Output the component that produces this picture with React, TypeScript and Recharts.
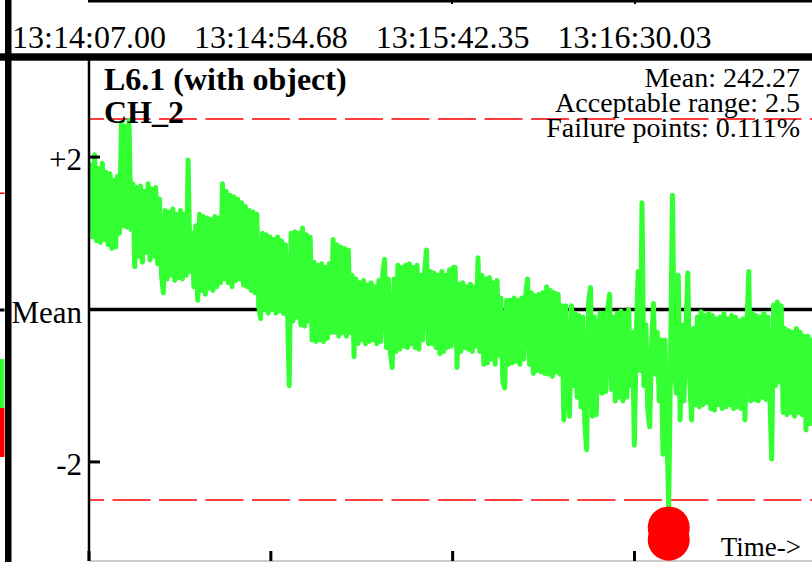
import React from 'react';
import { ComposedChart, Line, Scatter, XAxis, YAxis, ReferenceLine } from 'recharts';

// ---- data ----
const SAMPLE_INTERVAL = 0.5; // seconds between samples
const deviation: number[] = [
  1.05, 1.90, 0.95, 2.03, 0.90, 1.85, 0.88, 1.92, 0.92, 1.80,
  0.85, 1.78, 0.80, 1.70, 0.82, 1.75, 1.00, 2.45, 1.10, 2.40,
  1.08, 2.48, 1.05, 1.65, 0.56, 1.60, 0.70, 1.62, 0.62, 1.55,
  0.75, 1.65, 0.65, 1.58, 0.70, 1.60, 0.60, 1.45, 0.45, 0.22,
  1.30, 0.40, 1.28, 0.45, 1.32, 0.38, 1.25, 0.42, 1.30, 0.40,
  1.25, 0.45, 1.96, 0.50, 1.00, 0.30, 1.10, 0.12, 1.25, 0.25,
  1.22, 0.20, 1.20, 0.28, 1.18, 0.25, 1.22, 0.30, 1.20, 0.35,
  1.65, 0.40, 1.55, 0.35, 1.50, 0.30, 1.48, 0.38, 1.45, 0.40,
  1.40, 0.32, 1.35, 0.30, 1.30, 0.25, 1.28, 0.22, 1.25, 0.05,
  -0.12, 1.00, 0.00, 0.98, -0.05, 0.95, 0.00, 0.92, -0.05, 0.95,
  -0.02, 0.90, -0.05, 0.85, 0.10, -1.00, 1.00, -0.15, 1.02, -0.10,
  1.00, -0.20, 1.07, -0.22, 0.98, -0.15, 0.95, -0.40, 0.62, -0.42,
  0.58, -0.40, 0.60, -0.42, 0.55, -0.38, 0.60, -0.30, 0.92, -0.30,
  0.85, -0.35, 0.82, -0.30, 0.80, -0.35, 0.78, -0.30, 0.45, -0.62,
  0.40, -0.45, 0.35, -0.40, 0.38, -0.45, 0.32, -0.42, 0.35, -0.40,
  0.30, -0.45, 0.38, -0.42, 0.45, 0.66, -0.50, 0.40, -0.55, -0.76,
  0.40, -0.55, 0.58, -0.52, 0.55, -0.48, 0.58, -0.50, 0.60, -0.45,
  0.55, -0.50, 0.58, -0.52, 0.45, -0.40, 0.50, 0.78, -0.45, 0.50,
  -0.45, 0.48, -0.50, 0.45, -0.58, 0.50, -0.55, 0.45, -0.50, 0.52,
  -0.48, 0.55, 0.55, -0.76, 0.33, -0.55, 0.35, -0.50, 0.30, -0.52,
  0.33, -0.55, 0.30, -0.48, 0.68, -0.55, 0.45, -0.72, 0.40, -0.70,
  0.42, -0.65, 0.35, -0.72, 0.38, -0.60, 0.15, -0.95, -1.03, 0.12,
  -0.72, 0.12, -0.70, 0.15, -0.68, 0.12, -0.72, 0.15, -0.65, 0.20,
  0.40, -0.72, 0.22, -0.84, 0.18, -0.80, 0.20, -0.82, 0.22, -0.84,
  0.30, -0.85, 0.25, -0.88, 0.22, -0.82, 0.20, -0.85, 0.05, -1.45,
  0.05, -1.10, -1.40, 0.05, -1.00, -0.05, -1.15, -0.08, -1.28, -0.10,
  -1.50, -1.84, 0.10, 0.29, -1.40, -0.10, -1.38, -0.40, -0.05, -1.10,
  -0.05, -1.08, 0.00, 0.20, -1.05, -0.10, -1.20, -0.05, -1.15, -0.02,
  -1.20, -0.05, -1.15, 0.00, -1.00, -0.30, -1.78, -0.30, 0.50, -0.80,
  1.40, -1.00, -0.20, -1.30, -1.54, -0.50, 0.08, -0.85, -0.30, -1.20,
  -0.40, -1.90, -0.40, -1.50, -2.58, -0.60, 1.50, -0.80, -1.10, 0.45,
  -1.45, -0.20, -1.20, -0.30, 0.48, -0.90, -1.45, -0.25, -1.25, -0.10,
  -1.28, -0.03, -1.25, -0.08, -1.22, -0.05, -1.30, -0.08, -1.32, -0.12,
  -1.25, -0.10, -1.30, -0.05, -1.28, -0.12, -1.25, -0.08, -1.30, -0.10,
  -1.28, -0.15, -1.30, -0.12, -1.45, -0.20, 0.50, -1.20, -0.05, -1.18,
  -0.08, -1.20, -0.10, -1.15, -0.05, -1.18, -0.10, -1.10, -1.96, 0.06,
  -1.00, 0.10, -0.95, 0.05, -1.35, -0.25, -1.38, -0.28, -1.35, -0.30,
  -1.40, -0.25, -1.35, -0.30, -1.38, -0.35, -1.58, -0.35, -1.50, -0.40,
  -1.45,
];
const failTimes = [152, 152];
const failValues = [-2.86, -3.02];

const timeTickValues = [0, 47.68, 95.35, 143.03];
const timeTickLabels = ['13:14:07.00', '13:14:54.68', '13:15:42.35', '13:16:30.03'];
const yTickValues = [2, 0, -2];
const yTickLabels = ['+2', 'Mean', '-2'];
const acceptableRange = 2.5;
const meanValue = '242.27';
const failurePct = '0.111%';
const title = 'L6.1 (with object)';
const channel = 'CH_2';

const series = deviation.map((v, i) => ({ t: Math.round(i * SAMPLE_INTERVAL * 100) / 100, v }));
const failData = failTimes.map((t, i) => ({ t, v: failValues[i] }));

const FONT = '"Liberation Serif", "DejaVu Serif", serif';

const TopTick = (props: any) => {
  const { x, y, payload } = props;
  const idx = timeTickValues.indexOf(payload.value);
  return (
    <text x={x} y={y} textAnchor="middle" fontFamily={FONT} fontSize={32} fill="#000">
      {timeTickLabels[idx]}
    </text>
  );
};

const BottomTick = (props: any) => {
  const { x, y } = props;
  return <line x1={x} x2={x} y1={y} y2={y - 10} stroke="#000" strokeWidth={3} />;
};

const YTick = (props: any) => {
  const { x, y, payload } = props;
  const idx = yTickValues.indexOf(payload.value);
  return (
    <g>
      <line x1={x + 7} x2={x + 18} y1={y} y2={y} stroke="#000" strokeWidth={3} />
      <text x={x} y={y} dy={13} textAnchor="end" fontFamily={FONT} fontSize={31} fill="#000">
        {yTickLabels[idx]}
      </text>
    </g>
  );
};

const FailDot = (props: any) => <circle cx={props.cx} cy={props.cy} r={21} fill="#ff0000" />;

export default function App() {
  return (
    <div style={{ position: 'absolute', left: 0, top: 0, width: 812, height: 562, overflow: 'hidden', background: '#fff' }}>
      <ComposedChart width={812} height={562} margin={{ top: 0, right: 0, bottom: 0, left: 0 }}>
        <XAxis
          xAxisId="top"
          orientation="top"
          type="number"
          dataKey="t"
          domain={[0, 189.57]}
          allowDataOverflow
          ticks={timeTickValues}
          interval={0}
          height={58}
          axisLine={false}
          tickLine={false}
          tickSize={0}
          tickMargin={10}
          tick={<TopTick />}
        />
        <XAxis
          type="number"
          dataKey="t"
          domain={[0, 189.57]}
          allowDataOverflow
          ticks={timeTickValues}
          interval={0}
          height={1}
          axisLine={{ stroke: '#bdbdbd', strokeWidth: 1.5 }}
          tickLine={false}
          tickSize={0}
          tickMargin={0}
          tick={<BottomTick />}
        />
        <YAxis
          type="number"
          domain={[-3.3, 3.3]}
          allowDataOverflow
          ticks={yTickValues}
          interval={0}
          width={89}
          axisLine={{ stroke: '#000', strokeWidth: 2.5 }}
          tickLine={false}
          tickSize={0}
          tickMargin={7}
          tick={<YTick />}
        />
        <ReferenceLine y={acceptableRange} stroke="#ff0000" strokeWidth={1.6} strokeDasharray="38 8.5" strokeDashoffset={23} />
        <ReferenceLine y={-acceptableRange} stroke="#ff0000" strokeWidth={1.6} strokeDasharray="38 8.5" strokeDashoffset={23} />
        <ReferenceLine y={0} stroke="#000" strokeWidth={3.5} />
        <Line
          data={series}
          dataKey="v"
          type="linear"
          stroke="#33ff33"
          strokeWidth={5}
          strokeLinejoin="round"
          strokeLinecap="round"
          dot={false}
          activeDot={false}
          isAnimationActive={false}
        />
        <Scatter data={failData} dataKey="v" shape={<FailDot />} isAnimationActive={false} />
      </ComposedChart>
      <svg width={812} height={562} style={{ position: 'absolute', left: 0, top: 0, pointerEvents: 'none' }}>
        {/* frame pieces of the surrounding figure */}
        <rect x={5} y={0} width={6.5} height={562} fill="#000" />
        <rect x={0} y={53.3} width={812} height={7.4} fill="#000" />
        <rect x={88} y={0} width={724} height={2.5} fill="#000" />
        <rect x={451} y={0} width={2} height={4} fill="#000" />
        <rect x={634} y={0} width={2} height={4} fill="#000" />
        {/* neighbouring panel remnants */}
        <rect x={0} y={192.5} width={4.5} height={1.5} fill="#ff0000" />
        <rect x={0} y={308.5} width={4.5} height={3} fill="#000" />
        <rect x={0} y={359} width={4.5} height={49} fill="#33ff33" />
        <rect x={0} y={408} width={4.5} height={49} fill="#ff0000" />
        {/* texts */}
        <text x={104} y={90} fontFamily={FONT} fontWeight="bold" fontSize={32} fill="#000">{title}</text>
        <text x={104} y={123} fontFamily={FONT} fontWeight="bold" fontSize={32} fill="#000">{channel}</text>
        <text x={800} y={87} textAnchor="end" fontFamily={FONT} fontSize={28} fill="#000">{`Mean: ${meanValue}`}</text>
        <text x={800} y={112} textAnchor="end" fontFamily={FONT} fontSize={28} fill="#000">{`Acceptable range: ${acceptableRange}`}</text>
        <text x={800} y={137} textAnchor="end" fontFamily={FONT} fontSize={28} fill="#000">{`Failure points: ${failurePct}`}</text>
        <text x={801} y={556} textAnchor="end" fontFamily={FONT} fontSize={27} fill="#000">Time-&gt;</text>
      </svg>
    </div>
  );
}
